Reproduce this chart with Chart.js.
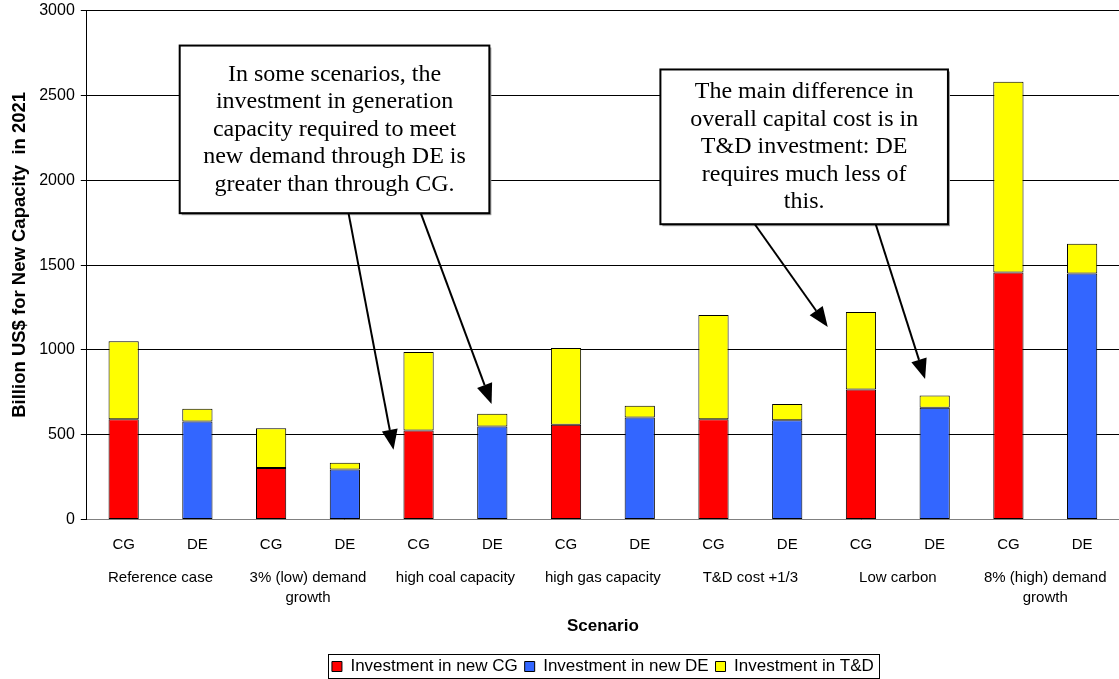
<!DOCTYPE html>
<html>
<head>
<meta charset="utf-8">
<script src="https://cdn.jsdelivr.net/npm/chart.js@4.4.0/dist/chart.umd.min.js"></script>
<style>
  html, body { margin: 0; padding: 0; background: #fff; overflow: hidden; }
  #wrap { width: 1119px; height: 684px; position: relative; top: -5px; }
</style>
</head>
<body>
<div id="wrap"><canvas id="cc"></canvas></div>
<script>
// 数据：每个情景两根柱子（CG / DE）
const barLabels = ['CG', 'DE', 'CG', 'DE', 'CG', 'DE', 'CG', 'DE', 'CG', 'DE', 'CG', 'DE', 'CG', 'DE'];
const scenarios = ['Reference case', ['3% (low) demand', 'growth'], 'high coal capacity', 'high gas capacity',
  'T&D cost +1/3', 'Low carbon', ['8% (high) demand', 'growth']];
const newCG = [592, null, 304, null, 525, null, 559, null, 592, null, 767, null, 1456, null];
const newDE = [null, 578, null, 296, null, 549, null, 602, null, 586, null, 659, null, 1450];
const tnd   = [459, 75, 235, 39, 463, 75, 453, 69, 614, 96, 457, 72, 1124, 176];
const yTicks = [0, 500, 1000, 1500, 2000, 2500, 3000];

// 注释框：位置用柱槽单位（0..14）和数值
const notes = [
  { lines: ['In some scenarios, the', 'investment in generation', 'capacity required to meet',
            'new demand through DE is', 'greater than through CG.'],
    box: [1.26, 2794, 5.46, 1806],
    arrows: [[3.55, 4.16, 412], [4.53, 5.49, 682]] },
  { lines: ['The main difference in', 'overall capital cost is in', 'T&D investment: DE',
            'requires much less of', 'this.'],
    box: [7.78, 2653, 11.68, 1741],
    arrows: [[9.06, 10.05, 1135], [10.70, 11.37, 829]] }
];

const SANS = 'Arial, "Liberation Sans", sans-serif';
const SERIF = '"Times New Roman", "Liberation Serif", serif';

const noteBoxes = {
  id: 'noteBoxes',
  // 图例居中于绘图区
  afterLayout(chart) {
    const lg = chart.legend, ca = chart.chartArea;
    if (!lg) return;
    const d = (ca.left + ca.right) / 2 - (lg.left + lg.right) / 2;
    lg.left += d;
    lg.right += d;
  },
  afterDraw(chart) {
    const ctx = chart.ctx, ca = chart.chartArea, ys = chart.scales.y;
    const sx = u => ca.left + u * (ca.right - ca.left) / barLabels.length;
    ctx.save();
    notes.forEach(n => {
      const x0 = sx(n.box[0]), y0 = ys.getPixelForValue(n.box[1]);
      const x1 = sx(n.box[2]), y1 = ys.getPixelForValue(n.box[3]);
      // 阴影
      ctx.fillStyle = '#999';
      ctx.fillRect(x0 + 2, y0 + 2, x1 - x0, y1 - y0);
      ctx.fillStyle = '#fff';
      ctx.fillRect(x0, y0, x1 - x0, y1 - y0);
      ctx.strokeStyle = '#000';
      ctx.lineWidth = 2;
      ctx.strokeRect(x0, y0, x1 - x0, y1 - y0);
      ctx.fillStyle = '#000';
      ctx.font = '24px ' + SERIF;
      ctx.textAlign = 'center';
      ctx.textBaseline = 'middle';
      const lh = 27.5, cx = (x0 + x1) / 2;
      const first = (y0 + y1) / 2 - lh * (n.lines.length - 1) / 2;
      n.lines.forEach((t, i) => ctx.fillText(t, cx, first + i * lh));
      n.arrows.forEach(a => {
        const ax = sx(a[0]), ay = y1;
        const tx = sx(a[1]), ty = ys.getPixelForValue(a[2]);
        const ang = Math.atan2(ty - ay, tx - ax);
        const L = 20, W = 8;
        const bx = tx - L * Math.cos(ang), by = ty - L * Math.sin(ang);
        ctx.beginPath();
        ctx.moveTo(ax, ay);
        ctx.lineTo(bx, by);
        ctx.lineWidth = 2;
        ctx.stroke();
        ctx.beginPath();
        ctx.moveTo(tx, ty);
        ctx.lineTo(bx + W * Math.sin(ang), by - W * Math.cos(ang));
        ctx.lineTo(bx - W * Math.sin(ang), by + W * Math.cos(ang));
        ctx.closePath();
        ctx.fill();
      });
    });
    // 图例边框
    const hb = chart.legend && chart.legend.legendHitBoxes;
    if (hb && hb.length) {
      const l = Math.min(...hb.map(b => b.left)) - 4;
      const r = Math.max(...hb.map(b => b.left + b.width)) + 5;
      const t = Math.min(...hb.map(b => b.top)) - 4;
      const btm = Math.max(...hb.map(b => b.top + b.height)) + 3;
      ctx.strokeStyle = '#000';
      ctx.lineWidth = 1;
      ctx.strokeRect(Math.round(l) + 0.5, Math.round(t) + 0.5, Math.round(r - l), Math.round(btm - t));
    }
    ctx.restore();
  }
};

new Chart(document.getElementById('cc').getContext('2d'), {
  type: 'bar',
  data: {
    labels: barLabels,
    datasets: [
      { label: 'Investment in new CG', data: newCG, backgroundColor: '#FF0000' },
      { label: 'Investment in new DE', data: newDE, backgroundColor: '#3366FF' },
      { label: 'Investment in T&D', data: tnd, backgroundColor: '#FFFF00' }
    ].map(d => Object.assign(d, {
      borderColor: '#000', borderWidth: 1, borderSkipped: false,
      barPercentage: 0.41, categoryPercentage: 1, skipNull: true
    }))
  },
  options: {
    responsive: true,
    maintainAspectRatio: false,
    animation: false,
    layout: { padding: { top: 0, right: 0, bottom: -6, left: 9 } },
    plugins: {
      tooltip: { enabled: false },
      legend: {
        position: 'bottom',
        labels: {
          color: '#000', font: { family: SANS, size: 17 },
          boxWidth: 10, boxHeight: 10, padding: 7, useBorderRadius: false
        }
      }
    },
    scales: {
      x: {
        stacked: true,
        grid: { display: false, drawTicks: false },
        border: { color: '#808080' },
        ticks: { color: '#000', font: { family: SANS, size: 15 }, padding: 16, maxRotation: 0, autoSkip: false }
      },
      x2: {
        type: 'category',
        labels: scenarios,
        position: 'bottom',
        grid: { display: false, drawTicks: false },
        border: { display: false },
        ticks: { color: '#000', font: { family: SANS, size: 15, lineHeight: 1.3 }, padding: -1, maxRotation: 0, autoSkip: false },
        title: { display: true, text: 'Scenario', color: '#000', font: { family: SANS, size: 17, weight: 'bold' }, padding: { top: 10, bottom: 14 } }
      },
      y: {
        stacked: true,
        min: 0, max: 3000,
        afterBuildTicks: s => { s.ticks = yTicks.map(v => ({ value: v })); },
        grid: { color: '#000', tickColor: '#000', tickLength: 6, lineWidth: 1 },
        border: { color: '#000' },
        ticks: { color: '#000', font: { family: SANS, size: 16 }, padding: 6, callback: v => String(v) },
        title: { display: true, text: '    Billion US$ for New Capacity  in 2021', color: '#000',
                 font: { family: SANS, size: 18.5, weight: 'bold' }, padding: { top: 0, bottom: 2 } }
      }
    }
  },
  plugins: [noteBoxes]
});
</script>
</body>
</html>
